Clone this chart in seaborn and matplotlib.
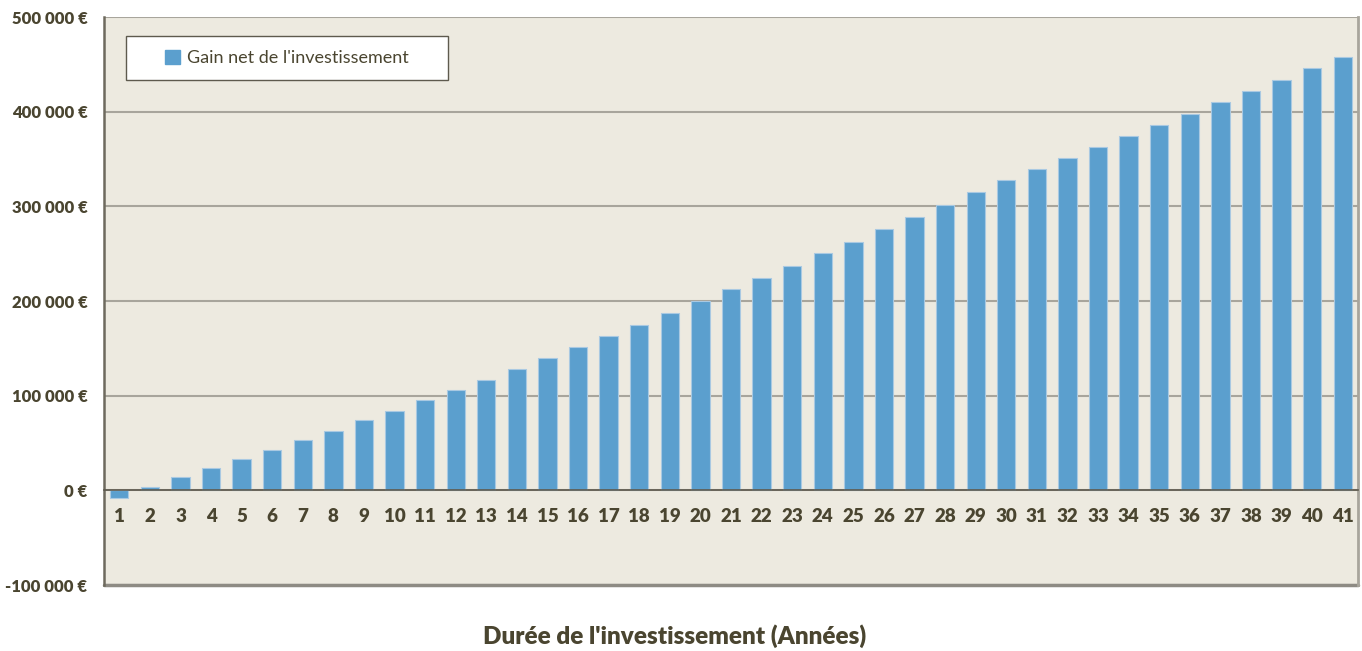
import matplotlib
matplotlib.use("Agg")
import matplotlib.pyplot as plt
from matplotlib.ticker import FuncFormatter, FixedLocator, MultipleLocator
from matplotlib.patches import Patch, Rectangle
import seaborn as sns
import pandas as pd

annees = list(range(1, 42))
gains = [-8000, 3000, 13700, 23300, 33000, 43000, 53000, 63000, 74000, 84000,
         95000, 106000, 117000, 128000, 139500, 151000, 163000, 175000, 187400, 199500,
         212500, 224800, 237100, 250200, 262500, 275600, 288300, 301300, 314700, 327500,
         339500, 351000, 362800, 374200, 385800, 397800, 410100, 421800, 433400, 445800,
         457700]
serie_label = "Gain net de l'investissement"
xlabel = "Durée de l'investissement (Années)"

df = pd.DataFrame({"annee": [str(a) for a in annees], "gain": gains})

sns.set_style("white")
plt.rcParams['font.family'] = ['Lato', 'DejaVu Sans']
plt.rcParams['font.weight'] = 'heavy'

txt = "#4A4530"
bg = "#EDEAE0"
bar_c = "#5B9FCE"

W, H = 1362, 651
L, R, T, B = 104, 1358, 17, 585

fig = plt.figure(figsize=(W/100, H/100), dpi=100)
ax = fig.add_axes([L/W, 1-B/H, (R-L)/W, (B-T)/H])
ax.set_facecolor(bg)

sns.barplot(data=df, x="annee", y="gain", color=bar_c, width=0.6, ax=ax,
            edgecolor="#A9C9E2", linewidth=0.8, saturation=1, zorder=3)

ax.set_ylim(-100000, 500000)
ax.set_xlim(-0.5, len(annees) - 0.5)
ax.yaxis.set_major_locator(MultipleLocator(100000))
ax.yaxis.set_major_formatter(FuncFormatter(lambda v, p: f"{int(v):,}".replace(",", " ") + " €"))
ax.grid(axis="y", color="#A8A59C", linewidth=1.5, zorder=0)
ax.set_axisbelow(True)

ax.tick_params(axis="y", labelsize=12, labelcolor=txt, length=5, width=1.2,
               direction="out", pad=7, color="#6E6A5E")

# bottom spine at zero
ax.spines["bottom"].set_position(("data", 0))
ax.spines["bottom"].set_color("#5E5A4E")
ax.spines["bottom"].set_linewidth(1.2)
ax.spines["bottom"].set_zorder(4)
ax.spines["left"].set_color("#6E6A5E")
ax.spines["left"].set_linewidth(1.8)
ax.spines["right"].set_visible(True)
ax.spines["right"].set_color("#A8A59C")
ax.spines["right"].set_linewidth(2)
ax.spines["top"].set_visible(False)
ax.axhline(-100000, color="#8E8B84", linewidth=2.5, zorder=2, clip_on=False)

ax.set_xticks(range(len(annees)))
ax.set_xticklabels([str(a) for a in annees], fontweight="heavy", fontsize=13.5, color=txt)
ax.xaxis.set_minor_locator(FixedLocator([i + 0.5 for i in range(len(annees) - 1)]))
ax.tick_params(axis="x", which="major", length=0, pad=13)
ax.tick_params(axis="x", which="minor", length=6, width=1.2, color="#5E5A4E", direction="out")

ax.set_xlabel("")
ax.set_ylabel("")
fig.text(675/W, 1-636/H, xlabel, ha="center", va="center",
         fontsize=17.5, fontweight="heavy", color=txt)

# legend box
lx0, lx1, ly0, ly1 = 126, 448, 36, 80
ax.add_patch(Rectangle(((lx0-L)/(R-L), 1-(ly1-T)/(B-T)), (lx1-lx0)/(R-L), (ly1-ly0)/(B-T),
                       transform=ax.transAxes, facecolor="white", edgecolor="#5E5A4E",
                       linewidth=1.0, zorder=5))
handle = Patch(facecolor=bar_c, edgecolor=bar_c)
leg = ax.legend([handle], [serie_label], loc="center",
                bbox_to_anchor=(((lx0+lx1)/2-L)/(R-L), 1-((ly0+ly1)/2-T)/(B-T)),
                frameon=False, prop={"family": ["Lato", "DejaVu Sans"], "weight": "normal", "size": 13},
                handlelength=0.8, handleheight=0.8, handletextpad=0.4,
                borderpad=0.0, labelcolor=txt)
leg.set_zorder(6)

fig.savefig("out.png", dpi=100)
